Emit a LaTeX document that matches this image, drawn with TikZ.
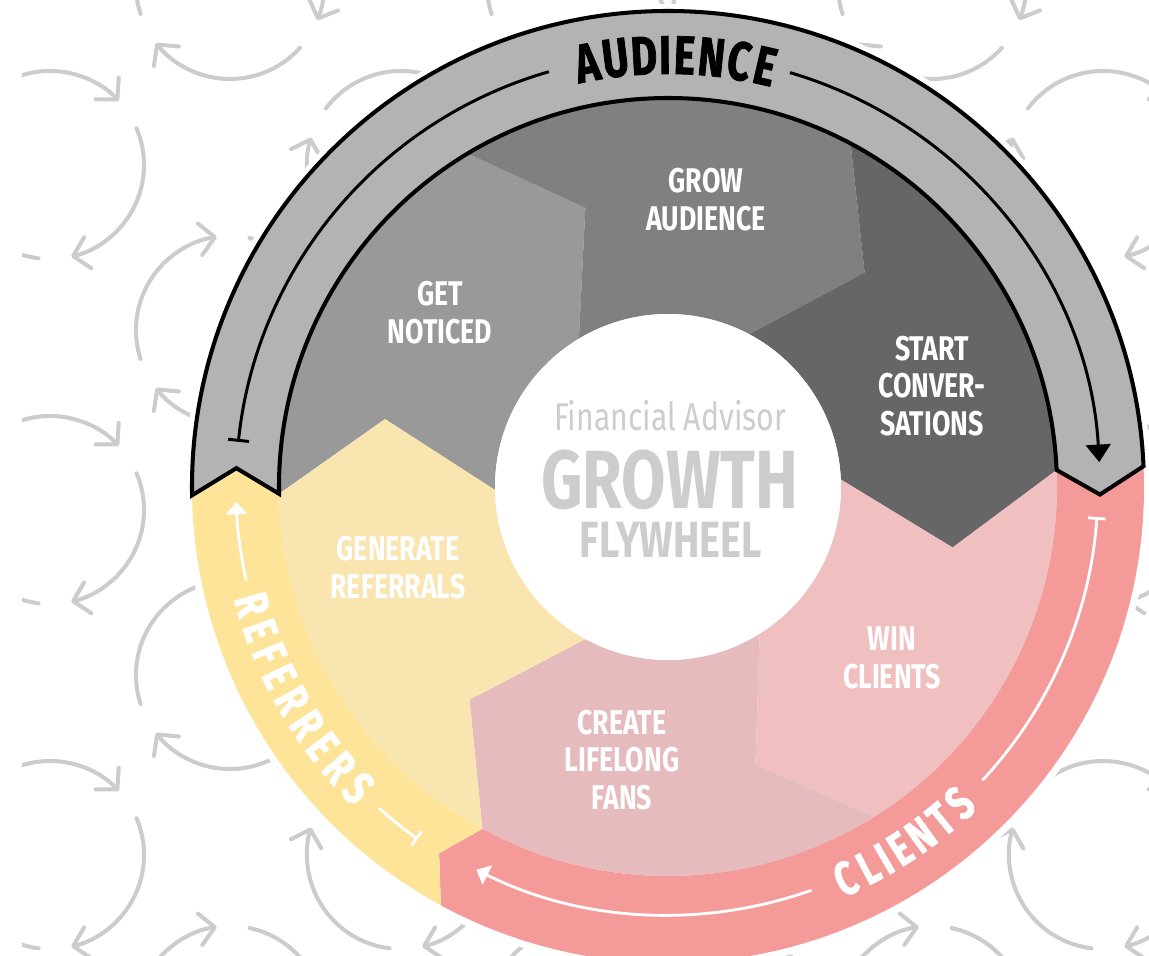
\documentclass[tikz,border=0pt]{standalone}
\usepackage{fontspec}
\newfontfamily\flyfont[FakeStretch=0.78]{Fira Sans}
\newfontfamily\ringfont[FakeStretch=0.74, FakeBold=1.4]{Fira Sans}
\usetikzlibrary{arrows.meta}

\definecolor{swirlgray}{HTML}{CCCCCC}
\definecolor{audband}{HTML}{B3B3B3}
\definecolor{refband}{HTML}{FDE499}
\definecolor{cliband}{HTML}{F49B9A}
\definecolor{getfill}{HTML}{999999}
\definecolor{growfill}{HTML}{808080}
\definecolor{startfill}{HTML}{666666}
\definecolor{winfill}{HTML}{F0C0C0}
\definecolor{fanfill}{HTML}{E6BBBD}
\definecolor{genfill}{HTML}{F9E5B0}
\definecolor{hubgray}{HTML}{CDCDCD}

\begin{document}
\begin{tikzpicture}[x=0.02cm, y=0.02cm,
    swirl/.style={draw=swirlgray, line width=2.3pt, line cap=round,
        -{Straight Barb[length=8.5pt, width=18pt, round]}},
    audline/.style={draw=black, line width=1.7pt},
    bandline/.style={draw=white, line width=1.6pt},
    steplabel/.style={text=white, align=center, inner sep=0pt,
        font=\flyfont\bfseries\fontsize{19.5}{21.5}\selectfont},
    audletter/.style={text=black, inner sep=0pt,
        font=\ringfont\bfseries\fontsize{31}{31}\selectfont},
    bandletter/.style={text=white, inner sep=0pt,
        font=\ringfont\bfseries\fontsize{27}{27}\selectfont}]
    \useasboundingbox (-668,-469) rectangle (481,487);
    \coordinate (O) at (0,0);

    % background swirls, two interleaved grids
    \begin{scope}
        \clip (-646,-469) rectangle (481,487);
        \foreach \ph/\xs/\ys in {0/{-618,-267,84,435}/{322,-23,-368},
                                 55/{-438,-87,264}/{502,157,-188,-533}} {
            \foreach \cx in \xs {
                \foreach \cy in \ys {
                    \foreach \a in {143,23,-97} {
                        \draw[swirl] (\cx,\cy) ++({\a+\ph}:94)
                            arc[start angle={\a+\ph}, end angle={\a+\ph-100}, radius=94];
                    }
                }
            }
        }
    \end{scope}
    \fill[white] (O) circle[radius=483];

    % six chevron sectors
    \foreach \hi/\lo/\col in {181/121/getfill, 121/62/growfill, 62/2.5/startfill,
                              2.5/-58/winfill, -58/-118.5/fanfill, -118.5/-179/genfill} {
        \fill[\col] (\hi:173) -- ({\hi-14.5}:291) -- (\hi:389)
            arc[start angle=\hi, end angle=\lo, radius=389]
            -- ({\lo-14.5}:291) -- (\lo:173)
            arc[start angle=\lo, end angle=\hi, radius=173] -- cycle;
    }
    \fill[white] (O) circle[radius=173];

    % outer bands
    \fill[cliband] (2.5:476) arc[start angle=2.5, end angle=-118.5, radius=476]
        -- (-122:432) -- (-118.5:389) arc[start angle=-118.5, end angle=2.5, radius=389]
        -- (-1:432) -- cycle;
    \fill[refband] (-118.5:476) arc[start angle=-118.5, end angle=-179, radius=476]
        -- (-182.5:432) -- (-179:389) arc[start angle=-179, end angle=-118.5, radius=389]
        -- (-122:432) -- cycle;
    \filldraw[fill=audband, draw=black, line width=2.3pt, line join=miter]
        (181:476) arc[start angle=181, end angle=2.5, radius=476]
        -- (-1:432) -- (2.5:389) arc[start angle=2.5, end angle=181, radius=389]
        -- (177.5:432) -- cycle;

    % arrows along the bands
    \draw[audline, {Bar[width=12pt]}-] (174:432) arc[start angle=174, end angle=106, radius=432];
    \draw[audline, -{Triangle[length=10pt, width=14pt]}] (73.6:432)
        arc[start angle=73.6, end angle=3.3, radius=432];
    \draw[bandline, {Bar[width=10pt]}-] (234.6:432) arc[start angle=234.6, end angle=228, radius=432];
    \draw[bandline, -{Triangle[length=7pt, width=12pt]}] (192.5:432)
        arc[start angle=192.5, end angle=182, radius=432];
    \draw[bandline, {Bar[width=10pt]}-] (-4:430) arc[start angle=-4, end angle=-43, radius=430];
    \draw[bandline, -{Triangle[length=7pt, width=12pt]}] (-70.4:428)
        arc[start angle=-70.4, end angle=-116.6, radius=428];

    % band names, one letter at a time
    \foreach \ch/\ang [count=\i] in {A/100.8, U/97.0, D/93.2, I/90.4,
                                     E/87.8, N/84.2, C/80.5, E/77.0} {
        \node[audletter, rotate=\ang-90] (aud\i) at (\ang:432) {\ch};
    }
    \foreach \ch/\ang [count=\i] in {R/195.8, E/199.4, F/202.7, E/206.0, R/209.6,
                                     R/213.4, E/216.9, R/220.5, S/224.2} {
        \node[bandletter, rotate=\ang+90] (ref\i) at (\ang:432) {\ch};
    }
    \foreach \ch/\ang [count=\i] in {C/-65.6, L/-62.2, I/-59.8, E/-57.3,
                                     N/-54.0, T/-50.6, S/-47.3} {
        \node[bandletter, rotate=\ang+90] (cli\i) at (\ang:430) {\ch};
    }

    % step labels
    \node[steplabel] (notice) at (-228,174) {GET\\NOTICED};
    \node[steplabel] (grow) at (38,287) {GROW\\AUDIENCE};
    \node[steplabel] (start) at (264,101) {START\\CONVER-\\SATIONS};
    \node[steplabel] (win) at (224,-171) {WIN\\CLIENTS};
    \node[steplabel] (fans) at (-46,-273) {CREATE\\LIFELONG\\FANS};
    \node[steplabel] (refer) at (-270,-81) {GENERATE\\REFERRALS};

    % hub
    \node[text=hubgray, inner sep=0pt, font=\flyfont\fontsize{22}{22}\selectfont]
        (advisor) at (2,71) {Financial Advisor};
    \node[text=hubgray, inner sep=0pt, font=\flyfont\bfseries\fontsize{47}{47}\selectfont]
        (growth) at (2,7) {GROWTH};
    \node[text=hubgray, inner sep=0pt, font=\flyfont\bfseries\fontsize{29}{29}\selectfont]
        (flywheel) at (3,-53) {FLYWHEEL};
\end{tikzpicture}
\end{document}
